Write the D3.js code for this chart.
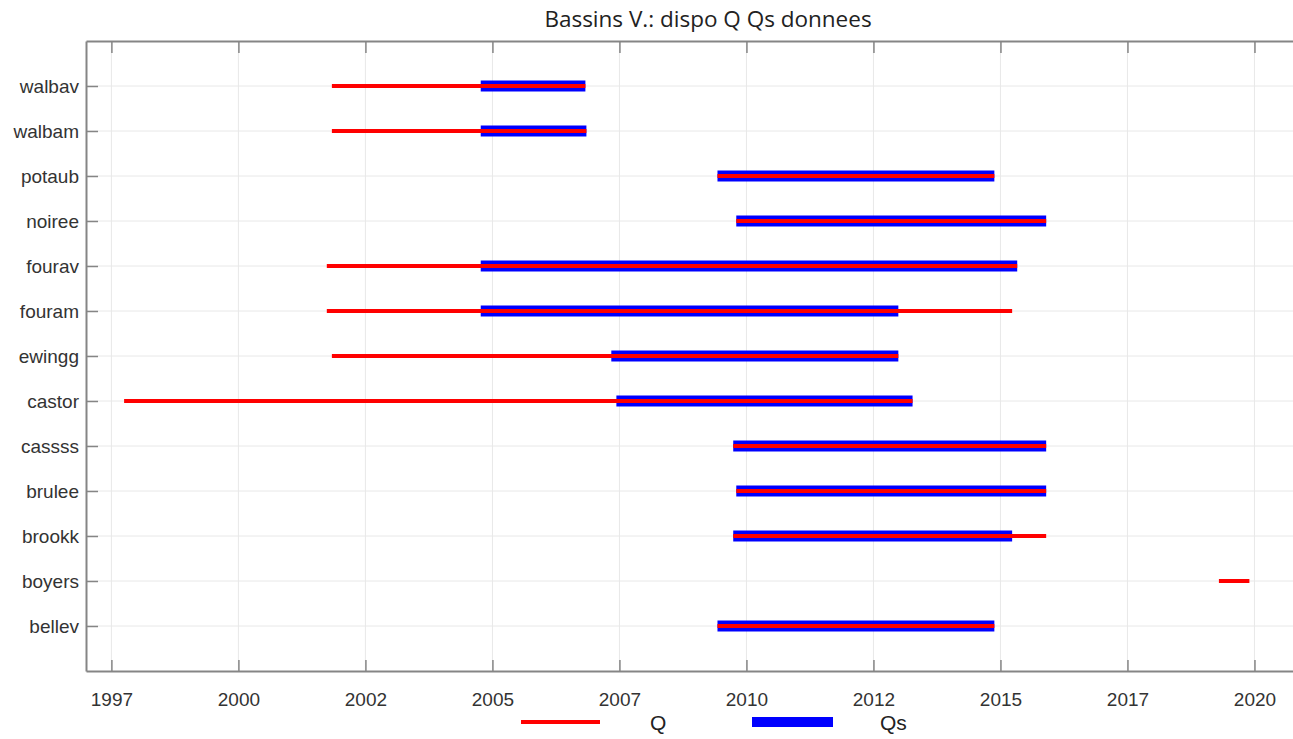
<!DOCTYPE html>
<html>
<head>
<meta charset="utf-8">
<script src="https://cdn.jsdelivr.net/npm/d3@7"></script>
<style>
  html, body { margin: 0; padding: 0; background: #fff; overflow: hidden; }
  svg { display: block; }
</style>
</head>
<body>
<svg id="chart" width="1293" height="739"></svg>
<script>
// ---- data (decimal years) ----
const stations = ["bellev","boyers","brookk","brulee","cassss","castor","ewingg","fouram","fourav","noiree","potaub","walbam","walbav"];
const qStart  = [2009.43, 2019.30, 2009.74, 2009.80, 2009.74, 1997.75, 2001.84, 2001.74, 2001.74, 2009.80, 2009.43, 2001.84, 2001.84];
const qEnd    = [2014.88, 2019.90, 2015.90, 2015.90, 2015.90, 2013.27, 2012.99, 2015.23, 2015.33, 2015.90, 2014.88, 2006.85, 2006.83];
const qsStart = [2009.43, null,    2009.74, 2009.80, 2009.74, 2007.44, 2007.34, 2004.77, 2004.77, 2009.80, 2009.43, 2004.77, 2004.77];
const qsEnd   = [2014.88, null,    2015.23, 2015.90, 2015.90, 2013.27, 2012.99, 2012.99, 2015.33, 2015.90, 2014.88, 2006.85, 2006.83];
const tickValues = [1997.5, 2000, 2002.5, 2005, 2007.5, 2010, 2012.5, 2015, 2017.5, 2020];
const tickLabels = ["1997","2000","2002","2005","2007","2010","2012","2015","2017","2020"];
const seriesNames = ["Q", "Qs"];
const seriesColors = ["#ff0000", "#0000ff"];

const svg = d3.select("#chart");
const mLeft = 86, mRight = 1320, mTop = 41, mBottom = 671;
const x = d3.scaleLinear().domain([1997.0, 2021.29]).range([mLeft, mRight]);
const y = d3.scaleLinear().domain([0, 14]).range([mBottom, mTop]);

const axisColor = "#858585";
const gridColor = "#e8e8e8";
const textColor = "#333333";
const font = "'Liberation Sans', Arial, sans-serif";

// grid
const g = svg.append("g");
g.selectAll("line.vg").data(tickValues).join("line")
  .attr("x1", d => x(d)).attr("x2", d => x(d))
  .attr("y1", mTop).attr("y2", mBottom)
  .attr("stroke", gridColor).attr("stroke-width", 1);
g.selectAll("line.hg").data(stations).join("line")
  .attr("x1", mLeft).attr("x2", mRight)
  .attr("y1", (d, i) => y(i + 1)).attr("y2", (d, i) => y(i + 1))
  .attr("stroke", gridColor).attr("stroke-width", 1);

// bars
const rows = stations.map((s, i) => ({s, i, q0: qStart[i], q1: qEnd[i], qs0: qsStart[i], qs1: qsEnd[i]}));
svg.append("g").selectAll("line").data(rows.filter(r => r.qs0 != null)).join("line")
  .attr("x1", r => x(r.qs0)).attr("x2", r => x(r.qs1))
  .attr("y1", r => y(r.i + 1)).attr("y2", r => y(r.i + 1))
  .attr("stroke", seriesColors[1]).attr("stroke-width", 11);
svg.append("g").selectAll("line").data(rows).join("line")
  .attr("x1", r => x(r.q0)).attr("x2", r => x(r.q1))
  .attr("y1", r => y(r.i + 1)).attr("y2", r => y(r.i + 1))
  .attr("stroke", seriesColors[0]).attr("stroke-width", 4);

// axes
const xb = svg.append("g").attr("transform", `translate(0,${mBottom})`)
  .call(d3.axisBottom(x).tickValues(tickValues).tickFormat((d, i) => tickLabels[i]).tickSizeInner(-11).tickSizeOuter(0).tickPadding(22));
const xt = svg.append("g").attr("transform", `translate(0,${mTop})`)
  .call(d3.axisTop(x).tickValues(tickValues).tickFormat("").tickSizeInner(-12).tickSizeOuter(0));
const yl = svg.append("g").attr("transform", `translate(${mLeft},0)`)
  .call(d3.axisLeft(y).tickValues(d3.range(1, stations.length + 1)).tickFormat(d => stations[d - 1]).tickSizeInner(-12).tickSizeOuter(0).tickPadding(7));
[xb, xt, yl].forEach(a => {
  a.select(".domain").attr("stroke", axisColor).attr("stroke-width", 2);
  a.selectAll(".tick line").attr("stroke", axisColor).attr("stroke-width", 1.5);
  a.selectAll("text").attr("fill", textColor).attr("font-family", font).attr("font-size", 19);
});
yl.selectAll("text").attr("dy", "0.35em");

// title
svg.append("text").attr("x", 708).attr("y", 27).attr("text-anchor", "middle")
  .attr("font-family", "'Open Sans', 'Noto Sans', sans-serif").attr("font-size", 22.5)
  .attr("fill", "#222").text("Bassins V.: dispo Q Qs donnees");

// legend
const legend = svg.append("g");
const legItems = [{x1: 521, x2: 600, tx: 650, w: 4}, {x1: 752, x2: 833, tx: 880, w: 10}];
legItems.forEach((it, i) => {
  legend.append("line").attr("x1", it.x1).attr("x2", it.x2).attr("y1", 722).attr("y2", 722)
    .attr("stroke", seriesColors[i]).attr("stroke-width", it.w);
  legend.append("text").attr("x", it.tx).attr("y", 730)
    .attr("font-family", font).attr("font-size", 21).attr("fill", "#222").text(seriesNames[i]);
});
</script>
</body>
</html>
